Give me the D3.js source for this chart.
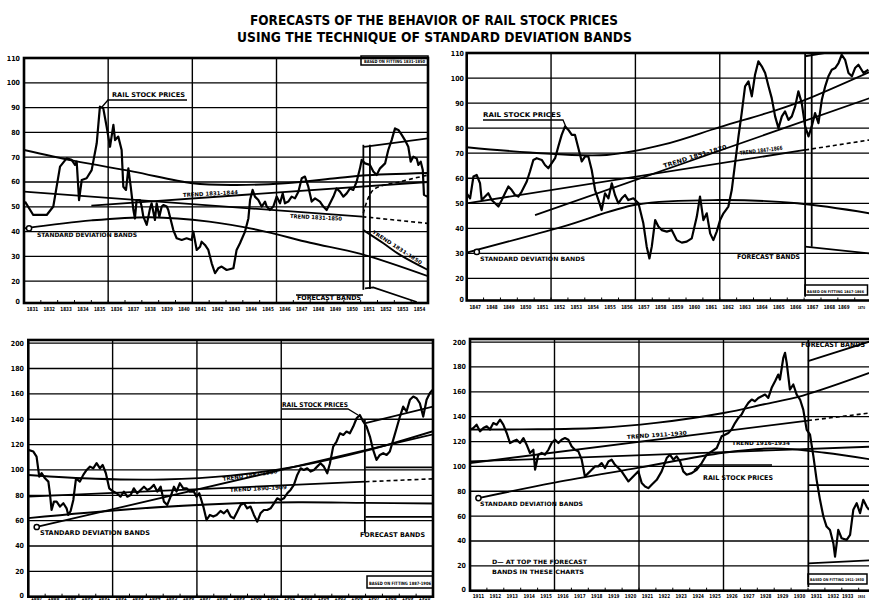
<!DOCTYPE html>
<html><head><meta charset="utf-8">
<script src="https://cdn.jsdelivr.net/npm/d3@7"></script>
<style>
body{margin:0;background:#fff}
svg{display:block}
text{font-family:"DejaVu Sans Condensed","Liberation Sans Narrow","Liberation Sans",Arial,sans-serif;font-weight:bold;fill:#000}
</style>
</head><body><svg id="chart"></svg>
<script>
// ---------------- DATA ----------------
const titleLines = ["FORECASTS OF THE BEHAVIOR OF RAIL STOCK PRICES","USING THE TECHNIQUE OF STANDARD DEVIATION BANDS"];

const topYTicks = [20,30,40,50,60,70,80,90,100,110];
const topYTickLabels = ["20","30","40","50","60","70","80","90","100","110"];
const bottomYTicks = [20,40,60,80,100,120,140,160,180,200];
const bottomYTickLabels = ["20","40","60","80","100","120","140","160","180","200"];

const tlYearLabels = ["1831","1832","1833","1834","1835","1836","1837","1838","1839","1840","1841","1842","1843","1844","1845","1846","1847","1848","1849","1850","1851","1852","1853","1854"];
const trYearLabels = ["1847","1848","1849","1850","1851","1852","1853","1854","1855","1856","1857","1858","1859","1860","1861","1862","1863","1864","1865","1866","1867","1868","1869","1870"];
const blYearLabels = ["1887","1888","1889","1890","1891","1892","1893","1894","1895","1896","1897","1898","1899","1900","1901","1902","1903","1904","1905","1906","1907","1908","1909","1910"];
const brYearLabels = ["1911","1912","1913","1914","1915","1916","1917","1918","1919","1920","1921","1922","1923","1924","1925","1926","1927","1928","1929","1930","1931","1932","1933","1934"];

// Rail stock prices [year, index]
const tlPrice = [[1831.06,52.1],[1831.55,46.7],[1832.35,46.7],[1832.74,50.1],[1833.14,66.2],[1833.53,69.5],[1833.83,68.9],[1834.03,66.9],[1834.13,68.2],[1834.27,52.7],[1834.43,60.8],[1834.72,61.5],[1835.02,64.8],[1835.32,75.6],[1835.51,90.4],[1835.71,89.7],[1835.91,82.3],[1836.11,74.2],[1836.31,83.0],[1836.41,76.9],[1836.60,78.3],[1836.80,72.9],[1836.90,58.1],[1837.06,56.8],[1837.20,65.5],[1837.34,58.1],[1837.50,48.7],[1837.59,45.3],[1837.69,52.7],[1837.89,52.7],[1837.99,50.1],[1838.09,46.0],[1838.29,42.7],[1838.49,49.4],[1838.58,51.4],[1838.78,44.7],[1838.88,51.4],[1839.04,46.0],[1839.18,50.1],[1839.28,50.7],[1839.48,50.1],[1839.57,48.7],[1839.87,40.6],[1840.07,37.3],[1840.37,36.6],[1840.66,37.3],[1840.96,36.6],[1841.06,40.0],[1841.26,32.6],[1841.46,33.9],[1841.55,35.9],[1841.75,34.6],[1841.95,32.6],[1842.15,27.2],[1842.35,23.2],[1842.54,25.2],[1842.74,25.9],[1843.04,24.5],[1843.44,25.2],[1843.63,32.6],[1843.83,35.3],[1844.13,40.0],[1844.33,45.3],[1844.43,52.7],[1844.58,56.8],[1844.72,54.1],[1844.92,52.7],[1845.12,50.1],[1845.32,52.1],[1845.42,50.1],[1845.61,48.7],[1845.81,50.1],[1846.01,54.1],[1846.21,51.4],[1846.37,55.4],[1846.50,51.4],[1846.70,52.1],[1846.90,54.1],[1847.10,53.4],[1847.30,56.1],[1847.50,61.5],[1847.69,62.2],[1847.89,58.1],[1848.09,52.1],[1848.29,53.4],[1848.58,52.1],[1848.78,50.1],[1848.98,48.7],[1849.18,51.4],[1849.38,54.1],[1849.57,57.4],[1849.77,56.1],[1849.97,54.1],[1850.17,55.4],[1850.37,57.4],[1850.56,56.8],[1850.76,60.1],[1850.96,65.5],[1851.06,68.9],[1851.26,67.5],[1851.55,66.9],[1851.75,64.2],[1851.95,62.8],[1852.15,65.5],[1852.45,67.5],[1852.64,72.9],[1852.84,76.9],[1853.04,81.6],[1853.24,81.0],[1853.44,79.0],[1853.63,76.9],[1853.83,74.2],[1853.97,68.2],[1854.13,70.2],[1854.33,69.5],[1854.43,66.9],[1854.57,68.2],[1854.69,64.8],[1854.76,54.8],[1854.96,54.1]];

const trPrice = [[1847.00,54.0],[1847.20,52.0],[1847.40,60.7],[1847.59,61.3],[1847.79,58.0],[1847.89,51.3],[1848.09,52.7],[1848.28,54.0],[1848.48,51.3],[1848.68,50.0],[1848.88,48.7],[1849.08,51.3],[1849.27,54.0],[1849.47,56.7],[1849.67,55.3],[1849.87,53.3],[1850.06,52.7],[1850.26,54.7],[1850.56,58.7],[1850.75,62.7],[1850.95,67.3],[1851.15,68.0],[1851.45,67.3],[1851.64,65.3],[1851.84,64.0],[1852.04,66.0],[1852.24,68.0],[1852.43,72.7],[1852.63,77.3],[1852.83,80.7],[1853.03,79.3],[1853.23,77.3],[1853.42,77.3],[1853.62,72.0],[1853.82,66.7],[1854.02,68.7],[1854.21,68.7],[1854.41,63.3],[1854.61,55.3],[1854.81,51.3],[1855.00,47.3],[1855.20,54.0],[1855.40,52.0],[1855.60,58.0],[1855.79,53.3],[1855.99,50.0],[1856.19,52.0],[1856.39,53.3],[1856.58,51.3],[1856.88,52.0],[1857.18,50.0],[1857.47,42.0],[1857.67,32.7],[1857.83,28.0],[1857.97,32.7],[1858.17,43.3],[1858.36,40.7],[1858.56,39.3],[1858.86,38.7],[1859.15,39.3],[1859.45,35.3],[1859.75,34.3],[1860.04,34.7],[1860.34,36.0],[1860.64,44.7],[1860.83,52.7],[1861.03,43.3],[1861.23,46.0],[1861.43,38.0],[1861.62,35.3],[1861.82,38.7],[1862.02,43.3],[1862.22,46.0],[1862.51,48.7],[1862.71,55.3],[1862.91,66.0],[1863.11,76.7],[1863.30,86.0],[1863.50,96.7],[1863.70,98.7],[1863.90,92.7],[1864.09,101.3],[1864.29,106.7],[1864.49,104.7],[1864.69,102.0],[1864.89,96.7],[1865.08,92.0],[1865.28,84.7],[1865.48,80.0],[1865.68,84.7],[1865.87,86.7],[1866.07,83.3],[1866.27,84.7],[1866.47,88.7],[1866.66,94.7],[1866.86,90.0],[1867.06,80.7],[1867.26,76.7],[1867.45,80.7],[1867.65,86.0],[1867.85,82.0],[1868.05,91.3],[1868.25,96.7],[1868.44,100.7],[1868.64,103.3],[1868.84,104.0],[1869.04,106.0],[1869.23,109.3],[1869.43,107.3],[1869.63,102.0],[1869.83,100.7],[1870.02,104.0],[1870.22,105.3],[1870.52,102.0],[1870.81,103.3]];

const blPrice = [[1887.00,115.8],[1887.30,114.5],[1887.49,110.5],[1887.65,94.7],[1887.79,97.4],[1887.99,93.4],[1888.19,90.8],[1888.28,81.6],[1888.38,68.4],[1888.52,75.0],[1888.68,75.0],[1888.88,71.1],[1889.08,73.7],[1889.27,69.7],[1889.37,64.5],[1889.51,67.6],[1889.67,76.3],[1889.83,93.4],[1890.06,90.8],[1890.26,96.1],[1890.46,100.0],[1890.66,102.6],[1890.85,101.3],[1891.05,105.3],[1891.25,101.3],[1891.41,103.9],[1891.60,97.4],[1891.80,85.5],[1892.04,82.9],[1892.24,81.6],[1892.47,78.9],[1892.67,82.9],[1892.87,78.9],[1893.07,80.3],[1893.26,85.5],[1893.46,81.6],[1893.66,84.2],[1893.86,86.8],[1894.06,84.2],[1894.25,85.5],[1894.45,88.2],[1894.65,82.9],[1894.85,86.8],[1895.04,75.0],[1895.24,72.4],[1895.44,78.9],[1895.64,86.8],[1895.79,82.9],[1895.99,89.5],[1896.19,85.5],[1896.39,85.5],[1896.58,82.9],[1896.82,82.9],[1896.98,78.9],[1897.14,81.6],[1897.38,71.1],[1897.57,60.5],[1897.77,64.5],[1897.97,63.2],[1898.17,64.5],[1898.40,67.6],[1898.60,65.8],[1898.80,68.4],[1899.00,63.2],[1899.19,61.8],[1899.39,67.1],[1899.59,72.4],[1899.79,73.7],[1899.98,69.7],[1900.18,71.1],[1900.38,64.5],[1900.58,59.2],[1900.77,65.8],[1900.97,68.4],[1901.17,68.4],[1901.37,69.7],[1901.57,73.7],[1901.76,77.6],[1901.96,76.3],[1902.16,77.6],[1902.36,81.6],[1902.55,84.2],[1902.75,88.2],[1902.95,96.1],[1903.15,101.3],[1903.34,100.0],[1903.54,101.3],[1903.74,98.7],[1903.94,100.0],[1904.13,102.6],[1904.33,105.3],[1904.53,102.6],[1904.73,97.4],[1904.89,105.3],[1905.08,118.4],[1905.28,122.4],[1905.48,128.9],[1905.68,127.6],[1905.87,130.3],[1906.07,128.9],[1906.27,134.2],[1906.47,140.8],[1906.66,143.4],[1906.86,138.2],[1907.06,134.2],[1907.26,126.3],[1907.45,115.8],[1907.65,107.9],[1907.85,111.8],[1908.05,113.2],[1908.25,111.8],[1908.44,114.5],[1908.64,123.7],[1908.84,132.9],[1909.04,142.1],[1909.23,150.0],[1909.43,146.1],[1909.63,155.3],[1909.83,157.9],[1910.02,156.6],[1910.22,152.6],[1910.42,142.1],[1910.62,155.3],[1910.81,160.5],[1910.97,163.2]];

const brPrice = [[1911.00,129.6],[1911.20,130.9],[1911.39,133.6],[1911.59,128.2],[1911.79,130.9],[1911.99,132.3],[1912.18,129.6],[1912.38,134.9],[1912.58,133.6],[1912.78,137.6],[1912.97,133.6],[1913.17,126.9],[1913.37,118.8],[1913.56,120.2],[1913.76,121.5],[1913.96,118.8],[1914.16,122.8],[1914.35,117.5],[1914.55,110.8],[1914.75,113.4],[1914.85,97.3],[1915.04,109.4],[1915.24,110.8],[1915.44,109.4],[1915.64,113.4],[1915.83,118.8],[1916.03,121.5],[1916.23,118.8],[1916.42,121.5],[1916.62,122.8],[1916.82,121.5],[1917.02,116.1],[1917.21,113.4],[1917.41,112.1],[1917.61,105.4],[1917.80,91.9],[1918.00,94.6],[1918.20,97.3],[1918.40,100.0],[1918.59,100.0],[1918.79,102.7],[1918.99,98.7],[1919.19,104.0],[1919.38,105.4],[1919.58,101.3],[1919.78,98.7],[1919.97,96.0],[1920.17,91.9],[1920.37,87.9],[1920.57,90.6],[1920.76,93.3],[1920.96,96.0],[1921.16,86.6],[1921.36,83.9],[1921.55,82.5],[1921.75,85.2],[1922.05,89.2],[1922.34,96.0],[1922.64,106.7],[1922.83,109.4],[1923.03,105.4],[1923.23,108.1],[1923.43,104.0],[1923.62,96.0],[1923.82,93.3],[1924.12,94.6],[1924.41,97.3],[1924.71,102.7],[1925.00,109.4],[1925.30,112.1],[1925.60,114.8],[1925.89,124.2],[1926.09,125.5],[1926.29,126.9],[1926.48,129.6],[1926.68,134.9],[1926.88,139.0],[1927.07,141.7],[1927.27,147.0],[1927.47,151.1],[1927.67,153.8],[1927.86,152.4],[1928.06,155.1],[1928.26,156.5],[1928.46,157.8],[1928.65,155.1],[1928.85,163.2],[1929.05,168.5],[1929.24,173.9],[1929.34,169.9],[1929.54,187.4],[1929.64,191.4],[1929.74,183.3],[1929.93,161.8],[1930.13,165.9],[1930.33,157.8],[1930.53,153.8],[1930.72,145.7],[1930.92,129.6],[1931.12,125.5],[1931.32,108.1],[1931.51,89.2],[1931.71,73.1],[1931.91,59.7],[1932.10,51.6],[1932.30,48.9],[1932.50,38.2],[1932.60,27.4],[1932.70,38.2],[1932.79,48.9],[1932.99,42.2],[1933.29,40.9],[1933.49,44.9],[1933.68,65.1],[1933.88,70.4],[1934.08,62.4],[1934.27,73.1],[1934.47,67.7],[1934.61,65.1]];

// Standard deviation bands (curves)
const tlUpperBand = [[1831,72.9],[1834,68.5],[1837.5,64.2],[1841,59.5],[1843.5,58.8],[1846.5,59.5],[1849.5,61.5],[1851.1,62.6],[1855,63.6]];
const tlLowerBand = [[1831,41.3],[1835,44.5],[1838.5,45.8],[1842,44.0],[1845,40.5],[1848,35.5],[1851,31.0],[1855,22.0]];
const trUpperBand = [[1847,72.4],[1850.75,70.3],[1855.3,69.3],[1858.7,73.5],[1862,80.4],[1865.4,87.3],[1867.06,91.3],[1870.9,102.5]];
const trLowerBand = [[1847,30.3],[1852.7,40.7],[1857.1,49.5],[1862,51.3],[1866.6,50.0],[1870.9,46.0]];
const blUpperBand = [[1887,96],[1891,93],[1895,92.5],[1899,95.5],[1903,103],[1907,115],[1911,130.5]];
const blLowerBand = [[1887,62],[1893,69],[1899,73.5],[1903,74.5],[1907,74],[1911,73.5]];
const brUpperBand = [[1911,129.6],[1914,129.8],[1918.5,130.9],[1922,135],[1926,143],[1928.4,150],[1930.7,157],[1935,177]];
const brLowerBand = [[1911.5,74.5],[1916,87],[1921,99],[1926,111],[1929,114.5],[1932,111],[1935,105]];

// Trend lines (fitted part solid, extension dashed)
const tlTrend3150 = [[1831,56.1],[1851.1,46.0]];
const tlTrend3150Ext = [[1851.1,46.0],[1855,43.3]];
const tlTrend3144 = [[1835,50.5],[1855,60.0]];
const trTrend5170 = [[1851.05,45.3],[1870.9,92.0]];
const trTrend4766 = [[1847,50.0],[1867.06,71.3]];
const trTrend4766Ext = [[1867.06,71.3],[1870.9,75.3]];
const blTrendSteep = [[1887.5,55],[1911,128]];
const blTrendFlat = [[1887,79],[1907,90.7]];
const blTrendFlatExt = [[1907,90.7],[1911,93]];
const brTrend1130 = [[1911,102.7],[1931,136.9]];
const brTrend1130Ext = [[1931,136.9],[1935,143.5]];
const brTrend1634 = [[1911,104],[1935,116]];

// Forecast bands
const tlForecastUpper = [[1851.2,74.2],[1855,77.6]];
const tlForecastMid = [[1851.16,47.4],[1851.75,56.8],[1853.34,60.1],[1855,62.8]];
const tlForecastTrend = [[1851.16,40.6],[1852.35,35.3],[1853.34,30.6],[1855,24.5]];
const tlForecastLower = [[1851.26,17.1],[1851.75,17.5],[1854.33,11.6]];
const trForecastUpper = [[1867.06,108.7],[1868.2,110]];
const trForecastLower = [[1867.06,32.7],[1870.9,30.0]];
const blForecastUpper = [[1907,137],[1911,150]];
const blForecastMid = [[1907,102],[1911,102]];
const blForecastLower = [[1907,63],[1911,63]];
const brForecastUpper = [[1931,184.7],[1935,202]];
const brForecastMid = [[1931,85],[1935,85]];
const brForecastLower = [[1931,22],[1935,24.7]];

// Forecast start markers [year, top value, bottom value]
const tlForecastMarks = [[1851.16,75,16.5],[1851.55,75,16.8]];
const trForecastMarks = [[1867.06,110,12.7],[1867.45,110,32.7]];
const blForecastMarks = [[1906.96,140,50]];
const brForecastMarks = [[1931.02,202.5,3]];

// ---------------- DRAWING ----------------
const W = 869, H = 601;
const svg = d3.select('#chart').attr('width', W).attr('height', H);
svg.append('rect').attr('width', W).attr('height', H).attr('fill', '#fff');

const titleG = svg.append('g');
const titleLayout = [{cx:434, y:25, len:368, fs:14}, {cx:434.5, y:42, len:395, fs:14}];
titleG.selectAll('text').data(titleLines).join('text')
  .attr('x', (d,i) => titleLayout[i].cx).attr('y', (d,i) => titleLayout[i].y)
  .attr('text-anchor', 'middle').attr('font-size', (d,i) => titleLayout[i].fs)
  .attr('textLength', (d,i) => titleLayout[i].len).attr('lengthAdjust', 'spacingAndGlyphs')
  .text(d => d);

const panels = [
  { id:'tl', xd:[1831,1855], xr:[24,428], yd:[11.2,110], yr:[303,58], yTicks:topYTicks, yLabels:topYTickLabels, base:"0",
    years:tlYearLabels, grid:[1836,1841,1846], yLabX:20, xLabY:311, price:tlPrice,
    curves:[tlUpperBand, tlLowerBand, tlForecastTrend], straight:[tlTrend3150, tlTrend3144, tlForecastUpper, tlForecastLower],
    dashed:[tlTrend3150Ext, tlForecastMid], marks:tlForecastMarks, circles:[[1831.3,41.3]] },
  { id:'tr', xd:[1847,1871], xr:[466.7,871.6], yd:[11.2,110], yr:[300.5,53], yTicks:topYTicks, yLabels:topYTickLabels, base:"0",
    years:trYearLabels, grid:[1852,1857,1862], yLabX:464, xLabY:309, price:trPrice,
    curves:[trUpperBand, trLowerBand], straight:[trTrend5170, trTrend4766, trForecastUpper, trForecastLower],
    dashed:[trTrend4766Ext], marks:trForecastMarks, circles:[[1847.6,30.6]] },
  { id:'bl', xd:[1887,1911], xr:[28.3,433], yd:[0,202.5], yr:[596.7,340], yTicks:bottomYTicks, yLabels:bottomYTickLabels, base:"0",
    years:blYearLabels, grid:[1892,1897,1902], yLabX:24, xLabY:600.3, price:blPrice,
    curves:[blUpperBand, blLowerBand], straight:[blTrendSteep, blTrendFlat, blForecastUpper, blForecastMid, blForecastLower],
    dashed:[blTrendFlatExt], marks:blForecastMarks, circles:[[1887.5,55]] },
  { id:'br', xd:[1911,1935], xr:[470,875.6], yd:[0,202.5], yr:[590.7,339], yTicks:bottomYTicks, yLabels:bottomYTickLabels, base:"0",
    years:brYearLabels, grid:[1916,1921,1926], yLabX:466, xLabY:598, price:brPrice,
    curves:[brUpperBand, brLowerBand], straight:[brTrend1130, brTrend1634, brForecastUpper, brForecastMid, brForecastLower],
    dashed:[brTrend1130Ext], marks:brForecastMarks, circles:[[1911.5,74.5]] }
];

panels.forEach(p => {
  const x = d3.scaleLinear().domain(p.xd).range(p.xr);
  const y = d3.scaleLinear().domain(p.yd).range(p.yr);
  const g = svg.append('g').attr('class', 'panel-' + p.id);
  const x0 = p.xr[0], x1 = Math.min(p.xr[1], W + 5), yTop = p.yr[1], yBot = p.yr[0];
  const clipId = 'clip-' + p.id;
  g.append('clipPath').attr('id', clipId).append('rect')
    .attr('x', x0).attr('y', yTop).attr('width', x1 - x0).attr('height', yBot - yTop);
  const inner = g.append('g').attr('clip-path', `url(#${clipId})`);

  inner.selectAll('line.hg').data(p.yTicks).join('line')
    .attr('x1', x0).attr('x2', x1).attr('y1', d => y(d)).attr('y2', d => y(d))
    .attr('stroke', '#000').attr('stroke-width', 1.3);
  inner.selectAll('line.vg').data(p.grid).join('line')
    .attr('x1', d => x(d)).attr('x2', d => x(d)).attr('y1', yTop).attr('y2', yBot)
    .attr('stroke', '#000').attr('stroke-width', 1.4);
  const yearTicks = p.years.map((s, i) => p.xd[0] + i);
  inner.selectAll('line.yt').data(yearTicks).join('line')
    .attr('x1', d => x(d)).attr('x2', d => x(d)).attr('y1', yBot).attr('y2', yBot - 3)
    .attr('stroke', '#000').attr('stroke-width', 1);
  inner.selectAll('line.fm').data(p.marks).join('line')
    .attr('x1', d => x(d[0])).attr('x2', d => x(d[0])).attr('y1', d => y(d[1])).attr('y2', d => y(d[2]))
    .attr('stroke', '#000').attr('stroke-width', 1.8);

  const lineLin = d3.line().x(d => x(d[0])).y(d => y(d[1]));
  const lineCurve = d3.line().x(d => x(d[0])).y(d => y(d[1])).curve(d3.curveCatmullRom.alpha(0.5));

  inner.selectAll('path.curve').data(p.curves).join('path')
    .attr('d', lineCurve).attr('fill', 'none').attr('stroke', '#000').attr('stroke-width', 1.9);
  inner.selectAll('path.straight').data(p.straight).join('path')
    .attr('d', lineLin).attr('fill', 'none').attr('stroke', '#000').attr('stroke-width', 1.8);
  inner.selectAll('path.dashed').data(p.dashed).join('path')
    .attr('d', d => d.length > 2 ? lineCurve(d) : lineLin(d)).attr('fill', 'none').attr('stroke', '#000')
    .attr('stroke-width', 1.6).attr('stroke-dasharray', '4,3');
  inner.selectAll('circle.st').data(p.circles).join('circle')
    .attr('cx', d => x(d[0])).attr('cy', d => y(d[1])).attr('r', 2.6)
    .attr('fill', '#fff').attr('stroke', '#000').attr('stroke-width', 1.5);

  inner.append('path').datum(p.price).attr('d', lineLin)
    .attr('fill', 'none').attr('stroke', '#000').attr('stroke-width', 2.2).attr('stroke-linejoin', 'round');

  g.append('rect').attr('x', x0).attr('y', yTop).attr('width', p.xr[1] - x0).attr('height', yBot - yTop)
    .attr('fill', 'none').attr('stroke', '#000').attr('stroke-width', 2.6);

  g.selectAll('text.yl').data(p.yTicks).join('text')
    .attr('x', p.yLabX).attr('y', d => y(d) + 2.5).attr('text-anchor', 'end')
    .attr('font-size', 7).text((d, i) => p.yLabels[i]);
  g.append('text').attr('x', p.yLabX).attr('y', yBot + 1).attr('text-anchor', 'end')
    .attr('font-size', 7).text(p.base);
  // x tick labels; a label that would run past the right edge is shrunk and end-anchored inside it,
  // and its left neighbour is nudged left to leave room
  const isOver = i => x(p.xd[0] + i + 0.5) + 6.2 > W - 3;
  g.selectAll('text.xl').data(p.years).join('text')
    .each(function(d, i) {
      const cx = x(p.xd[0] + i + 0.5);
      const over = isOver(i);
      const nextOver = i + 1 < p.years.length && isOver(i + 1);
      d3.select(this)
        .attr('x', over ? W - 4 : (nextOver ? cx - 2.5 : cx))
        .attr('text-anchor', over ? 'end' : 'middle')
        .attr('font-size', over ? 4 : 5.4)
        .attr('textLength', over ? 7.3 : 11.5);
    })
    .attr('y', p.xLabY).attr('lengthAdjust', 'spacingAndGlyphs').text(d => d);
});

// ---------------- ANNOTATIONS ----------------
const ann = svg.append('g');
const labels = [
  {t:"RAIL STOCK PRICES", x:112, y:97, fs:6.5, len:73},
  {t:"STANDARD DEVIATION BANDS", x:37, y:237, fs:6, len:100},
  {t:"TREND 1831-1844", x:183, y:197, fs:5.5, len:55, r:-3},
  {t:"TREND 1831-1850", x:290, y:218, fs:5.5, len:52, r:3},
  {t:"FORECAST BANDS", x:297, y:300, fs:6.5, len:64},
  {t:"TREND 1831-1850", x:372, y:233, fs:5, len:58, r:33},
  {t:"BASED ON FITTING 1831-1850", x:364, y:63, fs:4.5, len:61},
  {t:"RAIL STOCK PRICES", x:483, y:117, fs:6.5, len:78},
  {t:"STANDARD DEVIATION BANDS", x:480, y:261, fs:6, len:105},
  {t:"TREND 1851-1870", x:664, y:168, fs:6, len:66, r:-17},
  {t:"TREND 1847-1866", x:740, y:155, fs:5.5, len:43, r:-7},
  {t:"FORECAST BANDS", x:737, y:259, fs:6.5, len:63},
  {t:"BASED ON FITTING 1847-1866", x:807, y:292.5, fs:3.8, len:57},
  {t:"RAIL STOCK PRICES", x:282, y:407, fs:6.5, len:66},
  {t:"STANDARD DEVIATION BANDS", x:40, y:535, fs:6.5, len:110},
  {t:"TREND 1887-1906", x:223, y:481, fs:5.5, len:55, r:-8},
  {t:"TREND 1890-1909", x:230, y:492, fs:5.5, len:57, r:-3},
  {t:"FORECAST BANDS", x:360, y:537, fs:6.5, len:65},
  {t:"BASED ON FITTING 1887-1906", x:369, y:585, fs:4.5, len:62},
  {t:"RAIL STOCK PRICES", x:703, y:480, fs:6.5, len:70},
  {t:"STANDARD DEVIATION BANDS", x:480, y:506, fs:6, len:103},
  {t:"TREND 1911-1930", x:627, y:439, fs:5.5, len:60, r:-4},
  {t:"TREND 1916-1934", x:732, y:445, fs:5.5, len:58},
  {t:"FORECAST BANDS", x:801, y:347, fs:7, len:64},
  {t:"D\u2014 AT TOP THE FORECAST", x:492, y:564, fs:6, len:95},
  {t:"BANDS IN THESE CHARTS", x:492, y:574, fs:6, len:92},
  {t:"BASED ON FITTING 1911-1930", x:810, y:580.5, fs:3.8, len:54}
];
ann.selectAll('text').data(labels).join('text')
  .attr('x', d => d.x).attr('y', d => d.y).attr('font-size', d => d.fs)
  .attr('textLength', d => d.len).attr('lengthAdjust', 'spacingAndGlyphs')
  .attr('transform', d => d.r ? `rotate(${d.r},${d.x},${d.y})` : null)
  .text(d => d.t);

const boxes = [[361,56,67,9],[805,285,62.5,10],[367,576,66,12],[808,574,59,10]];
ann.selectAll('rect').data(boxes).join('rect')
  .attr('x', d => d[0]).attr('y', d => d[1]).attr('width', d => d[2]).attr('height', d => d[3])
  .attr('fill', 'none').attr('stroke', '#000').attr('stroke-width', 1.5);

const leaders = [
  [[102,107],[108,100],[187,100]],
  [[483,120],[563,120],[566,127]],
  [[282,409],[348,409],[358,415]],
  [[694,470],[700,465],[772,465]],
  [[296,295],[363,295]]
];
ann.selectAll('path').data(leaders).join('path')
  .attr('d', d3.line()).attr('fill', 'none').attr('stroke', '#000').attr('stroke-width', 1.3);
</script>
</body></html>
